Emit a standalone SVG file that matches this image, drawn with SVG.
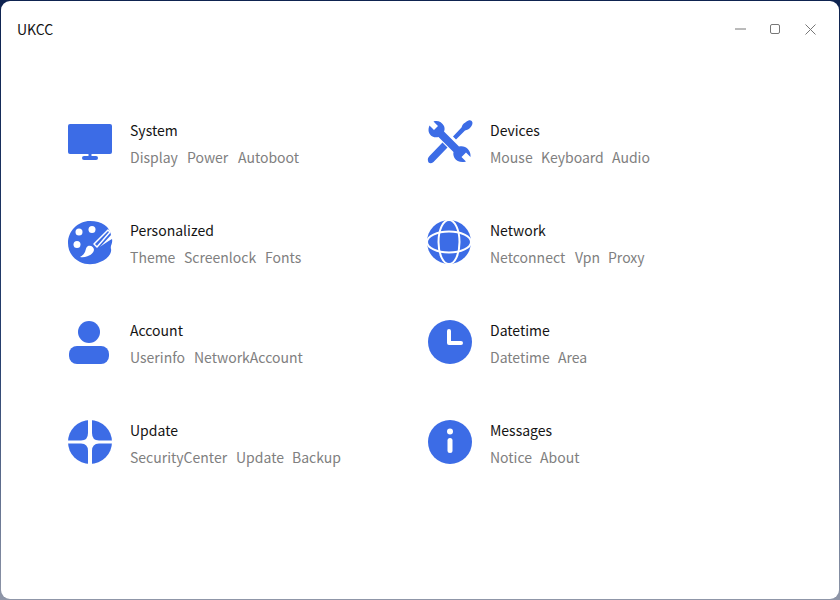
<svg xmlns="http://www.w3.org/2000/svg" width="840" height="600" viewBox="0 0 840 600">
<style>
text{font-family:"Noto Sans CJK SC","Noto Sans",sans-serif;font-size:14px}
.t{fill:#141414}
.s{fill:#808080}
.i{fill:#3c6ce6}
.w{fill:none;stroke:#fff;stroke-linecap:round;stroke-linejoin:round}
.c{fill:none;stroke:#777;stroke-width:1}
</style>
<defs><linearGradient id="bg" x1="0" y1="0" x2="0" y2="1"><stop offset="0" stop-color="#0e2350"/><stop offset="0.6" stop-color="#27406f"/><stop offset="1" stop-color="#8f96a8"/></linearGradient></defs>
<rect width="840" height="600" fill="url(#bg)"/>
<rect x="1" y="1" width="838" height="598" rx="9" fill="#fff"/>
<text class="t" x="17" y="35">UKCC</text>
<g id="window-controls">
<path class="c" d="M735 29H746"/>
<rect class="c" x="770.500" y="24.500" width="9" height="9" rx="1.500"/>
<path class="c" d="M805.500 24.500L815.500 34.500M815.500 24.500L805.500 34.500"/>
</g>
<g id="connectors"/>
<g id="system">
<rect class="i" x="68" y="124" width="44" height="30" rx="2"/>
<rect class="i" x="88.500" y="153" width="3" height="4"/>
<rect class="i" x="82" y="156" width="16" height="4" rx="2"/>
<text class="t" x="130" y="136">System</text>
<text class="s" x="130" y="163">Display</text><text class="s" x="187" y="163">Power</text><text class="s" x="238" y="163">Autoboot</text>
</g>
<g id="personalized">
<path class="i" d="M90 221C102 221 110 227 111 235L100 247C104 244 108 241 112 239C113 244 110 245 111 249C112 253 108 259 100 262C94 265 86 265 80 262C72 258 68 251 68 243C68 231 78 221 90 221Z"/>
<circle cx="79" cy="232" r="3.500" fill="#fff"/><circle cx="92" cy="229.500" r="3.500" fill="#fff"/><circle cx="77" cy="244.500" r="3.500" fill="#fff"/>
<path class="w" stroke-width="1.500" d="M94 244L108 230L110 232L97 247Z"/>
<path d="M80 257C86 258 93 255 94 250C94 247 91 245 88 246C86 247 86 249 85 252C84 254 82 256 80 257Z" fill="#fff"/>
<text class="t" x="130" y="236">Personalized</text>
<text class="s" x="130" y="263">Theme</text><text class="s" x="184" y="263">Screenlock</text><text class="s" x="265" y="263">Fonts</text>
</g>
<g id="account">
<circle class="i" cx="89" cy="332" r="11"/>
<rect class="i" x="69" y="346" width="40" height="18" rx="8"/>
<text class="t" x="130" y="336">Account</text>
<text class="s" x="130" y="363">Userinfo</text><text class="s" x="194" y="363">NetworkAccount</text>
</g>
<g id="update">
<circle class="i" cx="90" cy="442" r="22"/>
<path d="M88 418H92V433Q92 440.500 99 440.500H114V443.500H99Q92 443.500 92 451V466H88V451Q88 443.500 81 443.500H66V440.500H81Q88 440.500 88 433Z" fill="#fff"/>
<text class="t" x="130" y="436">Update</text>
<text class="s" x="130" y="463">SecurityCenter</text><text class="s" x="236" y="463">Update</text><text class="s" x="292" y="463">Backup</text>
</g>
<g id="devices">
<path class="i" d="M468.500 120.500C470.500 119.500 472.500 121 472.500 123C472.500 125 470.500 128 468 129.500L465 130.500L456 139.500L453 136.500L461.500 127.500L462.500 125C464 123 466.500 121.500 468.500 120.500Z"/>
<path class="i" d="M442.500 142.500L447.500 147.500L433.500 162C431 164 428.500 163.500 428 161C427.500 159 428 157.500 429.500 156Z"/>
<path class="i" d="M429.500 125.500L434 130L438 126L433.500 121.500C437.500 120 442 122 444 126C444.800 128 444.800 130 444 131.500L459 146.500C461 146 463 146 465 147C469 149 471 153 470.500 157L466 152.500L461.500 157L466 161.500C461.500 163 456.500 161.500 454.500 158C453.500 156 453 154 453.500 152L438.500 137C436.500 137.500 434.500 137.500 432.500 136.500C428.500 134.500 427.500 130 429.500 125.500Z"/>
<text class="t" x="490" y="136">Devices</text>
<text class="s" x="490" y="163">Mouse</text><text class="s" x="541" y="163">Keyboard</text><text class="s" x="612" y="163">Audio</text>
</g>
<g id="network">
<circle class="i" cx="449" cy="242" r="22"/>
<g class="w" stroke-width="2"><ellipse cx="449" cy="242" rx="22" ry="10.500"/><ellipse cx="449" cy="242" rx="10.500" ry="22"/></g>
<text class="t" x="490" y="236">Network</text>
<text class="s" x="490" y="263">Netconnect</text><text class="s" x="575" y="263">Vpn</text><text class="s" x="608" y="263">Proxy</text>
</g>
<g id="datetime">
<circle class="i" cx="450" cy="342" r="22"/>
<path class="w" stroke-width="4" d="M449 331V343H461"/>
<text class="t" x="490" y="336">Datetime</text>
<text class="s" x="490" y="363">Datetime</text><text class="s" x="558" y="363">Area</text>
</g>
<g id="messages">
<circle class="i" cx="450" cy="442" r="22"/>
<circle cx="450" cy="431.500" r="3" fill="#fff"/>
<rect x="447.500" y="438" width="5" height="15" rx="2.500" fill="#fff"/>
<text class="t" x="490" y="436">Messages</text>
<text class="s" x="490" y="463">Notice</text><text class="s" x="540" y="463">About</text>
</g>
</svg>
